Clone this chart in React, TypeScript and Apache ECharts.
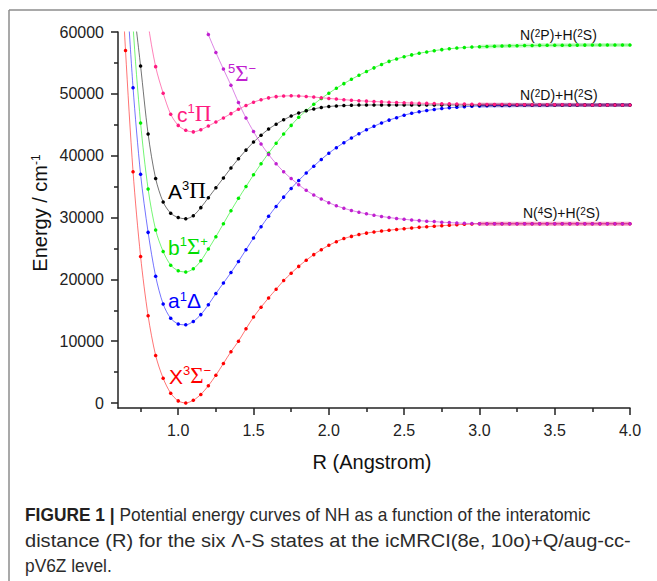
import React, { useEffect, useRef } from "react";
import * as echarts from "echarts";

// Internuclear distance R (Angstrom)
const R_VALUES = [
  0.6, 0.65, 0.7, 0.75, 0.8, 0.85, 0.9, 0.95, 1.0, 1.05,
  1.1, 1.15, 1.2, 1.25, 1.3, 1.35, 1.4, 1.45, 1.5, 1.55,
  1.6, 1.65, 1.7, 1.75, 1.8, 1.85, 1.9, 1.95, 2.0, 2.05,
  2.1, 2.15, 2.2, 2.25, 2.3, 2.35, 2.4, 2.45, 2.5, 2.55,
  2.6, 2.65, 2.7, 2.75, 2.8, 2.85, 2.9, 2.95, 3.0,
  3.05, 3.1, 3.15, 3.2, 3.25, 3.3, 3.35, 3.4, 3.45, 3.5,
  3.55, 3.6, 3.65, 3.7, 3.75, 3.8, 3.85, 3.9, 3.95, 4.0,
];

// Energies (cm^-1)
const X3SIGMA = [
  80000, 57000, 37400, 23700, 14100, 7700, 4000, 1600, 350, 20,
  450, 1400, 2800, 4500, 6400, 8300, 10000, 12000, 13900, 15500,
  17000, 18400, 19800, 21000, 22100, 23100, 24000, 24800, 25500, 26100,
  26600, 26950, 27250, 27480, 27660, 27810, 27950, 28080, 28200, 28310,
  28410, 28510, 28600, 28680, 28760, 28830, 28900, 28950, 28990,
  29000, 29000, 29000, 29000, 29000, 29000, 29000, 29000, 29000, 29000,
  29000, 29000, 29000, 29000, 29000, 29000, 29000, 29000, 29000, 29000,
];
const A1DELTA = [
  null, 70000, 51000, 37000, 27600, 20500, 16000, 13700, 12800, 12650,
  13200, 14300, 15900, 17700, 19400, 21100, 22900, 24800, 26700, 28500,
  30200, 31800, 33300, 34700, 36000, 37200, 38300, 39400, 40400, 41300,
  42100, 42850, 43550, 44200, 44750, 45300, 45750, 46150, 46550, 46850,
  47100, 47300, 47480, 47620, 47740, 47840, 47920, 47990, 48050,
  48080, 48100, 48120, 48130, 48140, 48150, 48160, 48170, 48170, 48180,
  48180, 48190, 48190, 48190, 48200, 48200, 48200, 48200, 48200, 48200,
];
const B1SIGMA = [
  null, 85000, 61000, 45300, 34600, 28000, 24500, 22300, 21400, 21200,
  21700, 23000, 24900, 26900, 29000, 31100, 33100, 35000, 36900, 38700,
  40400, 42000, 43500, 44900, 46200, 47300, 48300, 49250, 50100, 50900,
  51650, 52350, 53000, 53600, 54200, 54750, 55250, 55650, 56000, 56300,
  56550, 56780, 56980, 57150, 57290, 57400, 57490, 57560, 57620,
  57670, 57710, 57740, 57770, 57790, 57810, 57830, 57840, 57850, 57860,
  57870, 57870, 57880, 57880, 57890, 57890, 57900, 57900, 57900, 57900,
];
const A3PI = [
  null, null, 65000, 54500, 43500, 36300, 32500, 30700, 30000, 29800,
  30300, 31600, 33200, 34800, 36400, 38000, 39500, 40900, 42200, 43300,
  44300, 45100, 45800, 46400, 46900, 47250, 47550, 47800, 47950, 48050,
  48100, 48150, 48180, 48190, 48200, 48200, 48200, 48200, 48200, 48200,
  48200, 48200, 48200, 48200, 48200, 48200, 48200, 48200, 48200,
  48200, 48200, 48200, 48200, 48200, 48200, 48200, 48200, 48200, 48200,
  48200, 48200, 48200, 48200, 48200, 48200, 48200, 48200, 48200, 48200,
];
const C1PI = [
  null, null, null, 75000, 61500, 54400, 50100, 46700, 44900, 44100,
  43850, 44200, 44800, 45450, 46100, 46800, 47500, 48100, 48650, 49050,
  49350, 49550, 49650, 49680, 49650, 49580, 49480, 49370, 49260, 49160,
  49060, 48970, 48890, 48820, 48760, 48700, 48650, 48600, 48560, 48520,
  48490, 48460, 48430, 48400, 48380, 48360, 48340, 48320, 48300,
  48290, 48280, 48270, 48260, 48250, 48250, 48240, 48240, 48230, 48230,
  48220, 48220, 48220, 48210, 48210, 48210, 48210, 48200, 48200, 48200,
];
const QUINTET_SIGMA = [
  null, null, null, null, null, null, null, null, null, null,
  null, 62900, 59600, 56700, 54000, 51400, 48600, 46100, 43900, 41900,
  40200, 38700, 37400, 36300, 35300, 34400, 33650, 33000, 32400, 31900,
  31500, 31150, 30850, 30600, 30380, 30180, 30000, 29850, 29720, 29600,
  29500, 29410, 29340, 29250, 29180, 29120, 29070, 29030, 29010,
  29000, 29000, 29000, 29000, 29000, 29000, 29000, 29000, 29000, 29000,
  29000, 29000, 29000, 29000, 29000, 29000, 29000, 29000, 29000, 29000,
];

const Y_TICKS = [0, 10000, 20000, 30000, 40000, 50000, 60000];
const Y_MINOR = [5000, 15000, 25000, 35000, 45000, 55000];
const X_TICKS = [1.0, 1.5, 2.0, 2.5, 3.0, 3.5, 4.0];
const X_MINOR = [0.75, 1.25, 1.75, 2.25, 2.75, 3.25, 3.75];

const CURVES = [
  { name: "X3Σ-", values: X3SIGMA, color: "#ff0000" },
  { name: "a1Δ", values: A1DELTA, color: "#0000ff" },
  { name: "b1Σ+", values: B1SIGMA, color: "#00ee00" },
  { name: "A3Π", values: A3PI, color: "#000000" },
  { name: "c1Π", values: C1PI, color: "#ff1a80" },
  { name: "5Σ-", values: QUINTET_SIGMA, color: "#c020d0" },
];

const SANS = '"Liberation Sans", Arial, Helvetica, sans-serif';
const SERIF = '"Liberation Serif", "Times New Roman", serif';
const AXIS_COLOR = "#222222";

function measure(text: string, font: string): number {
  const c = document.createElement("canvas").getContext("2d");
  if (!c) return text.length * 8;
  c.font = font;
  return c.measureText(text).width;
}

function stateLabel(x: number, baseline: number, text: string, color: string) {
  return {
    type: "text",
    x,
    y: baseline - 7,
    silent: true,
    style: {
      text,
      align: "left",
      verticalAlign: "middle",
      rich: {
        m: { fontFamily: SANS, fontSize: 21, fill: color, verticalAlign: "bottom" },
        g: { fontFamily: SERIF, fontSize: 23, fill: color, verticalAlign: "bottom" },
        s: { fontFamily: SANS, fontSize: 13, fill: color, verticalAlign: "top" },
      },
    },
  };
}

function limitLabel(x: number, baseline: number, text: string) {
  return {
    type: "text",
    x,
    y: baseline - 5,
    silent: true,
    style: {
      text,
      align: "left",
      verticalAlign: "middle",
      rich: {
        m: { fontFamily: SANS, fontSize: 14, fill: "#111", verticalAlign: "bottom" },
        s: { fontFamily: SANS, fontSize: 10, fill: "#111", verticalAlign: "top" },
      },
    },
  };
}

export default function App() {
  const ref = useRef<HTMLDivElement>(null);

  useEffect(() => {
    if (!ref.current) return;
    const chart = echarts.init(ref.current, undefined, { renderer: "svg" });

    const mainSeries = CURVES.map((c) => ({
      name: c.name,
      type: "line",
      xAxisIndex: 0,
      yAxisIndex: 0,
      data: R_VALUES.map((r, i) => [r, c.values[i]]).filter((p) => p[1] !== null),
      symbol: "circle",
      symbolSize: 3.5,
      showSymbol: true,
      showAllSymbol: true,
      smooth: 0.3,
      clip: true,
      silent: true,
      lineStyle: { color: c.color, width: 1, opacity: 0.55 },
      itemStyle: { color: c.color },
      z: 3,
    }));

    const tailSeries = CURVES.map((c) => ({
      name: c.name + " tail",
      type: "line",
      xAxisIndex: 0,
      yAxisIndex: 0,
      data: R_VALUES.map((r, i) => [r, c.values[i]]).filter((p) => (p[0] as number) >= 3.0),
      symbol: "none",
      clip: true,
      silent: true,
      lineStyle: { color: c.color, width: 4, opacity: 0.22 },
      z: 2,
    }));

    // caption geometry
    const fs = 18;
    const boldFont = `bold ${fs}px "Liberation Sans"`;
    const normFont = `${fs}px "Liberation Sans"`;
    const cap1a = "FIGURE 1 ";
    const cap1b = "|";
    const cap1c = " Potential energy curves of NH as a function of the interatomic";
    const cap2 = "distance (R) for the six Λ-S states at the icMRCI(8e, 10o)+Q/aug-cc-";
    const cap3 = "pV6Z level.";
    const w1 = measure(cap1a, boldFont) + measure(cap1b, boldFont) + measure(cap1c, normFont);
    const sx1 = 566 / w1;
    const sx2 = 606 / measure(cap2, normFont);

    const capRich = {
      b: { fontFamily: SANS, fontSize: fs, fontWeight: "bold", fill: "#231f20" },
      n: { fontFamily: SANS, fontSize: fs, fill: "#2b2b2b" },
    };

    chart.setOption({
      animation: false,
      backgroundColor: "#ffffff",
      grid: { left: 118, right: 27, top: 32, bottom: 173, containLabel: false },
      xAxis: [
        {
          type: "value",
          min: 0.6,
          max: 4.0,
          position: "bottom",
          axisLine: { show: true, onZero: false, lineStyle: { color: AXIS_COLOR, width: 1.5 } },
          axisTick: { show: true, length: 7, customValues: X_TICKS, lineStyle: { color: AXIS_COLOR, width: 1.5 } },
          axisLabel: {
            show: true,
            customValues: X_TICKS,
            formatter: (v: number) => v.toFixed(1),
            margin: 14,
            fontSize: 16,
            fontFamily: SANS,
            color: AXIS_COLOR,
          },
          splitLine: { show: false },
        },
        {
          type: "value",
          min: 0.6,
          max: 4.0,
          position: "bottom",
          axisLine: { show: false, onZero: false },
          axisTick: { show: true, length: 4, customValues: X_MINOR, lineStyle: { color: AXIS_COLOR, width: 1.5 } },
          axisLabel: { show: false },
          splitLine: { show: false },
        },
      ],
      yAxis: [
        {
          type: "value",
          min: -800,
          max: 60000,
          position: "left",
          axisLine: { show: true, onZero: false, lineStyle: { color: AXIS_COLOR, width: 1.5 } },
          axisTick: { show: true, length: 7, customValues: Y_TICKS, lineStyle: { color: AXIS_COLOR, width: 1.5 } },
          axisLabel: {
            show: true,
            customValues: Y_TICKS,
            formatter: (v: number) => String(Math.round(v)),
            margin: 14,
            fontSize: 16,
            fontFamily: SANS,
            color: AXIS_COLOR,
          },
          splitLine: { show: false },
        },
        {
          type: "value",
          min: -800,
          max: 60000,
          position: "left",
          axisLine: { show: false, onZero: false },
          axisTick: { show: true, length: 4, customValues: Y_MINOR, lineStyle: { color: AXIS_COLOR, width: 1.5 } },
          axisLabel: { show: false },
          splitLine: { show: false },
        },
      ],
      series: [...tailSeries, ...mainSeries],
      graphic: [
        // figure frame
        { type: "line", silent: true, shape: { x1: 9, y1: 10, x2: 657, y2: 10 }, style: { stroke: "#8c8c8c", lineWidth: 1.5 } },
        { type: "line", silent: true, shape: { x1: 9, y1: 10, x2: 9, y2: 581 }, style: { stroke: "#8c8c8c", lineWidth: 1.5 } },
        // state labels
        stateLabel(177, 120, "{m|c}{s|1}{g|Π}", "#ff1a80"),
        stateLabel(228, 80, "{s|5}{g|Σ}{s|−}", "#c020d0"),
        stateLabel(168, 197, "{m|A}{s|3}{g|Π}", "#000000"),
        stateLabel(168, 253, "{m|b}{s|1}{g|Σ}{s|+}", "#00dd00"),
        stateLabel(168, 307, "{m|a}{s|1}{m|Δ}", "#0000ff"),
        stateLabel(169, 382, "{m|X}{s|3}{g|Σ}{s|−}", "#ff0000"),
        // dissociation limits
        limitLabel(520, 40, "{m|N(}{s|2}{m|P)+H(}{s|2}{m|S)}"),
        limitLabel(520, 100, "{m|N(}{s|2}{m|D)+H(}{s|2}{m|S)}"),
        limitLabel(523, 218, "{m|N(}{s|4}{m|S)+H(}{s|2}{m|S)}"),
        // axis names
        {
          type: "text",
          x: 40,
          y: 213,
          rotation: Math.PI / 2,
          silent: true,
          style: {
            text: "{m|Energy / cm}{s|-1}",
            align: "center",
            verticalAlign: "middle",
            rich: {
              m: { fontFamily: SANS, fontSize: 20, fill: "#111", verticalAlign: "bottom" },
              s: { fontFamily: SANS, fontSize: 12, fill: "#111", verticalAlign: "top" },
            },
          },
        },
        {
          type: "text",
          x: 372,
          y: 462,
          silent: true,
          style: {
            text: "R (Angstrom)",
            align: "center",
            verticalAlign: "middle",
            fontFamily: SANS,
            fontSize: 20,
            fill: "#111",
          },
        },
        // caption
        {
          type: "text",
          x: 25,
          y: 515,
          scaleX: sx1,
          silent: true,
          style: {
            text: `{b|${cap1a}}{b|${cap1b}}{n|${cap1c}}`,
            align: "left",
            verticalAlign: "middle",
            rich: capRich,
          },
        },
        {
          type: "text",
          x: 25,
          y: 541,
          scaleX: sx2,
          silent: true,
          style: {
            text: cap2,
            align: "left",
            verticalAlign: "middle",
            fontFamily: SANS,
            fontSize: fs,
            fill: "#2b2b2b",
          },
        },
        {
          type: "text",
          x: 25,
          y: 566,
          scaleX: sx1,
          silent: true,
          style: {
            text: cap3,
            align: "left",
            verticalAlign: "middle",
            fontFamily: SANS,
            fontSize: fs,
            fill: "#2b2b2b",
          },
        },
      ],
    });

    return () => {
      chart.dispose();
    };
  }, []);

  return (
    <div
      style={{ position: "absolute", left: 0, top: 0, width: 657, height: 581, background: "#fff" }}
    >
      <div ref={ref} style={{ width: 657, height: 581 }} />
    </div>
  );
}
